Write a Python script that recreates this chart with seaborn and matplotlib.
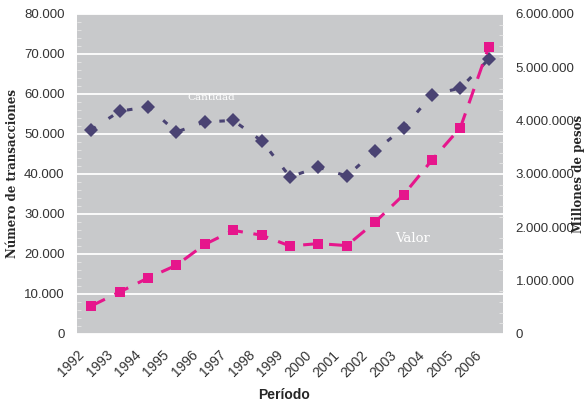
import numpy as np
import pandas as pd
import matplotlib
matplotlib.use("Agg")
import matplotlib.pyplot as plt
from matplotlib.ticker import MultipleLocator, FuncFormatter
import seaborn as sns


years = [str(y) for y in range(1992, 2007)]
cantidad = [51000, 55700, 56800, 50500, 53000, 53400, 48300, 39300,
            41700, 39500, 45800, 51500, 59800, 61500, 68700]
valor = [525000, 787500, 1050000, 1290000, 1680000, 1942500, 1852500, 1650000,
         1695000, 1657500, 2100000, 2610000, 3262500, 3870000, 5385000]

BG = "#c8c9cb"
PURPLE = "#4a4373"
MAGENTA = "#e6168c"

sns.set_style("white")
plt.rcParams["font.family"] = ["Liberation Sans", "DejaVu Sans"]

df = pd.DataFrame({"pos": np.arange(len(years)), "cantidad": cantidad, "valor": valor})

fig = plt.figure(figsize=(5.86, 4.01), dpi=100)
ax = fig.add_axes([77 / 586, 1 - 334 / 401, 426 / 586, 320 / 401])
ax.set_facecolor(BG)
ax2 = ax.twinx()

sns.lineplot(data=df, x="pos", y="cantidad", ax=ax, color=PURPLE, lw=2.2,
             marker="D", markersize=7, markeredgewidth=0, dashes=False,
             linestyle=(0, (1.8, 5)), zorder=3)
sns.lineplot(data=df, x="pos", y="valor", ax=ax2, color=MAGENTA, lw=2.2,
             marker="s", markersize=7.5, markeredgewidth=0, dashes=False,
             linestyle=(0, (5, 3.5)), zorder=3)

ax.set_xlim(-0.5, len(years) - 0.5)
ax.set_ylim(0, 80000)
ax2.set_ylim(0, 6000000)

fmt = FuncFormatter(lambda v, p: f"{int(v):,}".replace(",", "."))
ax.yaxis.set_major_locator(MultipleLocator(10000))
ax.yaxis.set_minor_locator(MultipleLocator(2000))
ax.yaxis.set_major_formatter(fmt)
ax2.yaxis.set_major_locator(MultipleLocator(1000000))
ax2.yaxis.set_minor_locator(MultipleLocator(200000))
ax2.yaxis.set_major_formatter(fmt)

ax.grid(axis="y", which="major", color="white", lw=1.3)
ax.set_axisbelow(True)

# Excel-style labels sit a bit to the left of each category
ax.set_xticks(df["pos"] - 0.5)
ax.set_xticklabels(years, rotation=45, ha="right", rotation_mode="anchor")
ax.xaxis.set_minor_locator(MultipleLocator(0.5))

ax.tick_params(axis="x", which="major", length=0, labelsize=10, colors="#333333", pad=10)
ax.tick_params(axis="x", which="minor", length=3, direction="in", color="#e6e6e6")
ax.tick_params(axis="y", which="both", direction="in", color="#e6e6e6",
               labelsize=9.5, labelcolor="#333333", pad=9)
ax.tick_params(axis="y", which="major", length=0)
ax.tick_params(axis="y", which="minor", length=3)
ax2.tick_params(axis="y", which="both", direction="in", color="#e6e6e6",
                labelsize=9.5, labelcolor="#333333", pad=9)
ax2.tick_params(axis="y", which="major", length=0)
ax2.tick_params(axis="y", which="minor", length=3)

for a in (ax, ax2):
    for s in a.spines.values():
        s.set_visible(False)

ax.set_xlabel("Período", fontsize=10, fontweight="bold")
ax.set_ylabel("Número de transacciones", fontsize=8.5, fontweight="bold",
              family="DejaVu Serif")
ax2.set_ylabel("Millones de pesos", fontsize=8.5, fontweight="bold",
               family="DejaVu Serif", rotation=90)
ax.xaxis.set_label_coords(0.486, -0.17)
ax.yaxis.set_label_coords(-0.135, 0.5)
ax2.yaxis.set_label_coords(1.163, 0.5)

ax.text(4.22, 59000, "Cantidad", color="white", fontsize=7.5, family="DejaVu Serif",
        ha="center", va="center")
ax.text(11.33, 24000, "Valor", color="white", fontsize=9.5, family="DejaVu Serif",
        ha="center", va="center")

fig.savefig("out.png", dpi=100)
